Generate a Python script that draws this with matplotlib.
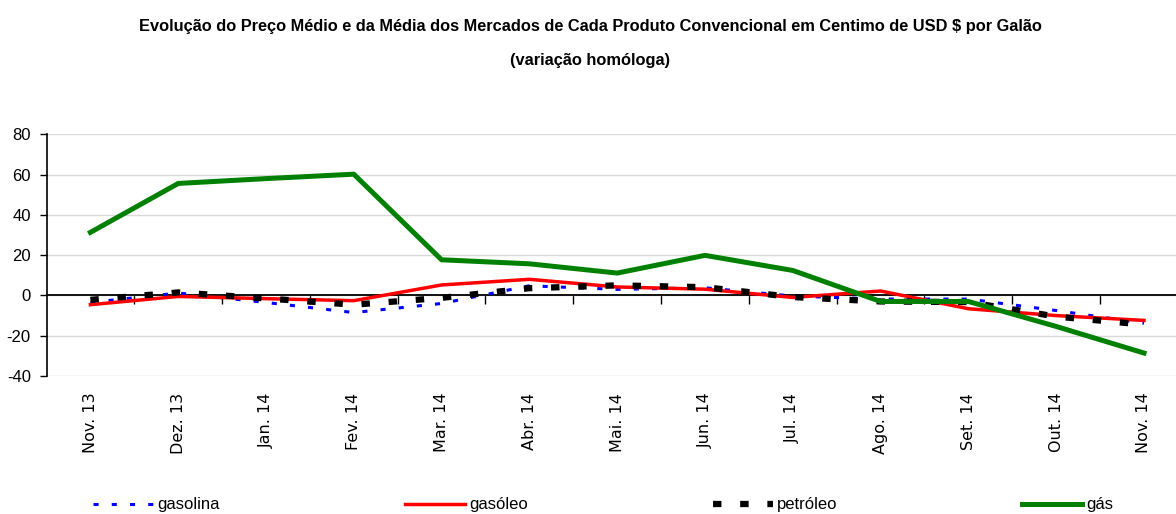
import matplotlib
matplotlib.use("Agg")
import matplotlib.pyplot as plt
from matplotlib import font_manager

months = ['Nov. 13', 'Dez. 13', 'Jan. 14', 'Fev. 14', 'Mar. 14', 'Abr. 14', 'Mai. 14',
          'Jun. 14', 'Jul. 14', 'Ago. 14', 'Set. 14', 'Out. 14', 'Nov. 14']
gasolina = [-3.5, 1.2, -3.5, -8.5, -4.0, 4.8, 3.0, 3.8, -0.3, -1.8, -1.8, -7.5, -13.8]
gasoleo = [-4.6, -0.5, -1.6, -2.6, 5.2, 8.0, 4.2, 3.1, -1.0, 2.2, -6.6, -10.0, -12.4]
petroleo = [-2.2, 1.5, -1.5, -4.6, -1.2, 3.6, 5.0, 4.1, -0.8, -3.0, -3.3, -10.5, -14.5]
gas = [31.3, 55.6, 58.0, 60.2, 17.7, 15.7, 11.1, 19.9, 12.4, -3.0, -3.0, -15.4, -28.6]
yticks = [-40, -20, 0, 20, 40, 60, 80]

title1 = 'Evolução do Preço Médio e da Média dos Mercados de Cada Produto Convencional em Centimo de USD $ por Galão'
title2 = '(variação homóloga)'

names = {f.name for f in font_manager.fontManager.ttflist}
has_narrow = 'Liberation Sans Narrow' in names
narrow = ['Liberation Sans Narrow', 'Liberation Sans', 'DejaVu Sans'] if has_narrow else ['Liberation Sans', 'DejaVu Sans']

W, H = 1176, 514
fig = plt.figure(figsize=(W / 100, H / 100), dpi=100)
left = 46.5 / W
width = 13 * 87.8 / W
bottom = (H - 376) / H
top = (H - 134.3) / H
ax = fig.add_axes([left, bottom, width, top - bottom])

x = list(range(len(months)))
l1, = ax.plot(x, gasolina, color='#0000FF', lw=2.2, dashes=(1.67, 4.3), label='gasolina', zorder=3)
l2, = ax.plot(x, gasoleo, color='#FF0000', lw=2.5, label='gasóleo', zorder=4)
l3, = ax.plot(x, petroleo, color='#000000', lw=4.5, dashes=(1.35, 3.0), label='petróleo', zorder=5)
l4, = ax.plot(x, gas, color='#008000', lw=3.6, label='gás', zorder=6)

ax.set_xlim(-0.5, len(months) - 0.5)
ax.set_ylim(-40, 80)
ax.set_yticks(yticks)
ax.set_yticklabels([str(v) for v in yticks], family=narrow, fontsize=12)
ax.yaxis.grid(True, color='#d9d9d9', lw=1.0)
ax.set_axisbelow(True)
for s in ['top', 'right']:
    ax.spines[s].set_visible(False)
ax.spines['left'].set_linewidth(1.2)
ax.spines['bottom'].set_position(('data', 0))
ax.spines['bottom'].set_linewidth(1.3)
ax.spines['bottom'].set_zorder(2.5)
ax.tick_params(axis='y', direction='out', length=4.8, width=1.0, pad=6.5)
ax.set_xticks([i + 0.5 for i in range(len(months) - 1)])
ax.tick_params(axis='x', direction='out', length=6.2, width=1.0, labelbottom=False)

sec = ax.secondary_xaxis('bottom')
sec.set_xticks(x)
sec.set_xticklabels(months, rotation=90, fontsize=11.5, family=['DejaVu Sans'], va='top', ha='center')
sec.tick_params(length=0, pad=12)
sec.spines['bottom'].set_visible(False)

tsize = 12.5 if has_narrow else 11.8
fig.text(590 / W, 1 - 26 / H, title1, ha='center', va='center', fontsize=tsize,
         fontweight='bold', family=narrow)
fig.text(590 / W, 1 - 60 / H, title2, ha='center', va='center', fontsize=tsize,
         fontweight='bold', family=narrow)

leg = fig.legend(handles=[l1, l2, l3, l4], loc='center left', bbox_to_anchor=(93 / W, 1 - 505 / H),
                 ncol=4, frameon=False, borderpad=0, borderaxespad=0, handlelength=3.6,
                 handletextpad=0.25, columnspacing=11.7 if has_narrow else 11.1,
                 prop={'family': narrow, 'size': 12})

fig.savefig('out.png', dpi=100)
